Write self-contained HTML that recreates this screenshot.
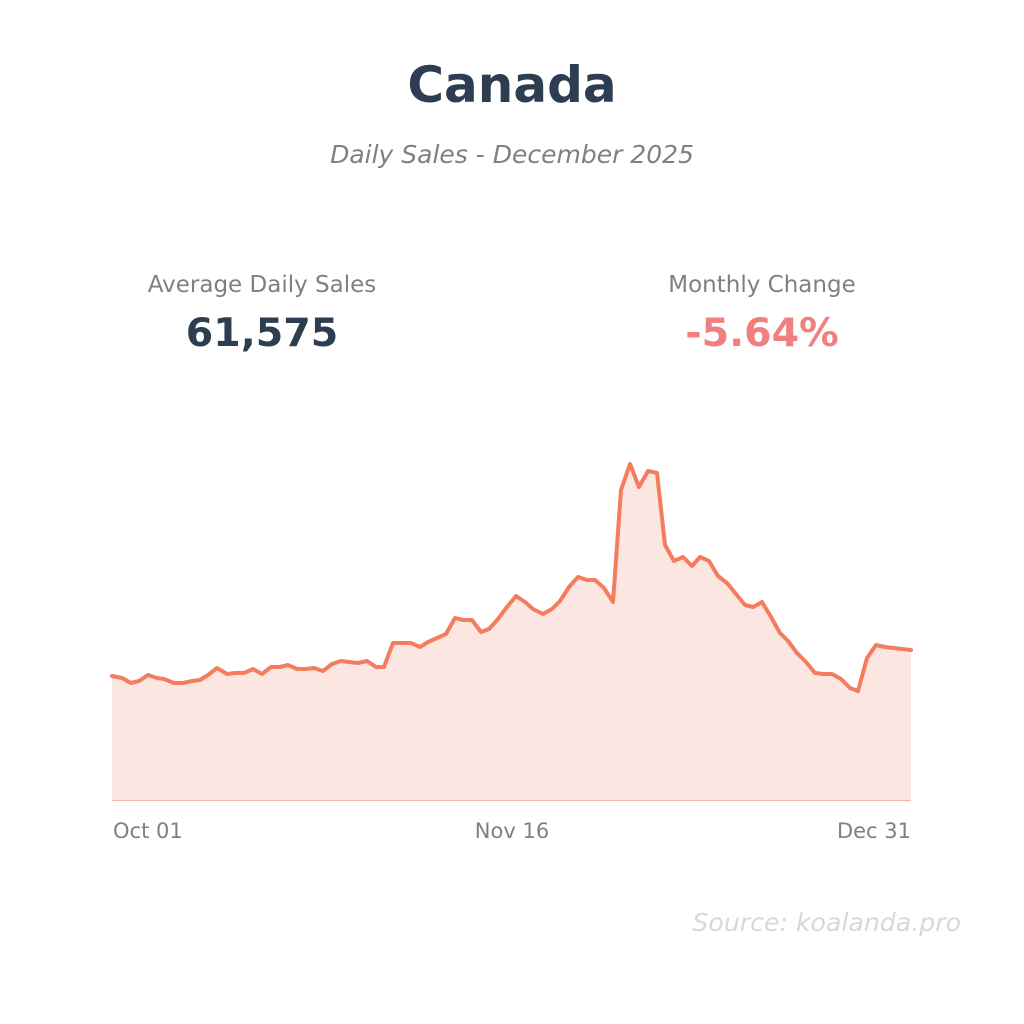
<!DOCTYPE html>
<html><head><meta charset="utf-8"><style>
html,body{margin:0;padding:0;background:#fff;}
body{width:1024px;height:1024px;position:relative;overflow:hidden;font-family:"DejaVu Sans","Liberation Sans",sans-serif;}
.t{position:absolute;white-space:nowrap;transform:translateX(-50%);}
</style></head><body>
<div class="t" style="left:512px;top:56px;font-size:50px;font-weight:bold;color:#2c3e50;">Canada</div>
<div class="t" style="left:512px;top:140px;font-size:25px;font-style:italic;color:#808080;">Daily Sales - December 2025</div>
<div class="t" style="left:262px;top:272px;font-size:23px;color:#808080;">Average Daily Sales</div>
<div class="t" style="left:262px;top:310px;font-size:39.5px;font-weight:bold;color:#2c3e50;">61,575</div>
<div class="t" style="left:762px;top:272px;font-size:23px;color:#808080;">Monthly Change</div>
<div class="t" style="left:762px;top:310px;font-size:39.5px;font-weight:bold;color:#f08080;">-5.64%</div>
<svg width="1024" height="1024" style="position:absolute;left:0;top:0">
<polygon fill="#fce6e1" points="112,800 112,676 122,678 131,683 139,681 148,675 157,678 164,679 174,683 183,683 192,681 200,680 208,675 217,668 227,674 235,673 244,673 253,669 262,674 271,667 280,667 288,665 297,669 306,669 314,668 323,671 332,664 341,661 349,662 358,663 367,661 376,667 384,667 393,643 402,643 411,643 420,647 428,642 437,638 446,634 455,618 463,620 472,620 481,632 489,629 498,619 507,607 516,596 525,602 533,609 543,614 552,609 560,601 569,587 578,577 587,580 595,580 604,588 613,602 621,490 630,464 639,487 648,471 657,473 665,545 674,561 683,557 692,566 700,557 709,561 718,576 727,583 736,594 745,605 753,607 762,602 771,617 780,633 788,641 797,653 806,662 815,673 823,674 832,674 841,679 850,688 858,691 867,658 876,645 885,647 911,650 911,800"/>
<line x1="112" y1="800.5" x2="911" y2="800.5" stroke="#f4b5a5" stroke-width="1"/>
<polyline fill="none" stroke="#f47c5f" stroke-width="4" stroke-linejoin="round" stroke-linecap="round" points="112,676 122,678 131,683 139,681 148,675 157,678 164,679 174,683 183,683 192,681 200,680 208,675 217,668 227,674 235,673 244,673 253,669 262,674 271,667 280,667 288,665 297,669 306,669 314,668 323,671 332,664 341,661 349,662 358,663 367,661 376,667 384,667 393,643 402,643 411,643 420,647 428,642 437,638 446,634 455,618 463,620 472,620 481,632 489,629 498,619 507,607 516,596 525,602 533,609 543,614 552,609 560,601 569,587 578,577 587,580 595,580 604,588 613,602 621,490 630,464 639,487 648,471 657,473 665,545 674,561 683,557 692,566 700,557 709,561 718,576 727,583 736,594 745,605 753,607 762,602 771,617 780,633 788,641 797,653 806,662 815,673 823,674 832,674 841,679 850,688 858,691 867,658 876,645 885,647 911,650"/>
</svg>
<div style="position:absolute;left:113px;top:819px;font-size:21px;color:#808080;">Oct 01</div>
<div class="t" style="left:512px;top:819px;font-size:21px;color:#808080;">Nov 16</div>
<div style="position:absolute;right:113px;top:819px;font-size:21px;color:#808080;">Dec 31</div>
<div style="position:absolute;right:63px;top:908px;font-size:25.2px;font-style:italic;color:#d8d8d8;">Source: koalanda.pro</div>
</body></html>
